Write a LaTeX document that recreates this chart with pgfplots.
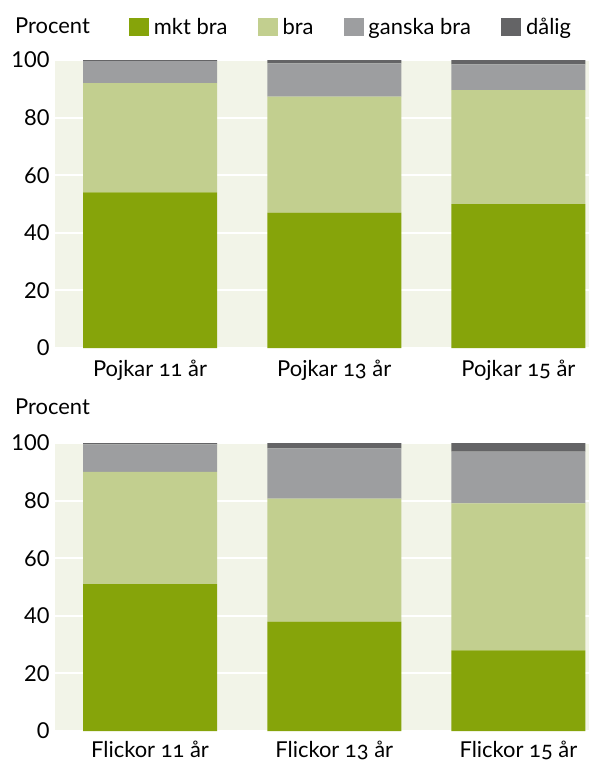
\documentclass[border=0pt]{standalone}
\usepackage{pgfplots}
\pgfplotsset{compat=1.18}
\usepackage{fontspec}
\setmainfont{Lato}
\newfontfamily\osf[Numbers=OldStyle]{Lato}
\definecolor{mkt}{HTML}{86A40A}
\definecolor{bra}{HTML}{C2CF8F}
\definecolor{gan}{HTML}{9D9EA0}
\definecolor{dal}{HTML}{646466}
\definecolor{bg}{HTML}{F2F4E8}
\newcommand{\fs}{\fontsize{22}{26}\selectfont}
\pgfplotsset{
 mystyle/.style={
  scale only axis, width=534bp, height=288bp,
  anchor=south west,
  ybar stacked, bar width=134bp,
  ymin=0, ymax=100, xmin=-0.516, xmax=2.383,
  xtick={0,1,2}, ytick={0,20,...,100},
  axis line style={draw=none},
  major tick length=0pt,
  ymajorgrids, grid style={white, line width=2bp},
  axis background/.style={fill=bg},
  /pgf/number format/assume math mode=true,
  yticklabel style={font=\fs, xshift=-2bp},
  xticklabel style={font=\osf\fs, anchor=base, yshift=-28bp, text depth=0pt, inner sep=0pt},
  clip=false,
 }
}
\begin{document}
\begin{tikzpicture}
\path[use as bounding box] (0,0) rectangle (590bp,-762bp);
\begin{axis}[mystyle, at={(55bp,-348bp)},
  xticklabels={Pojkar 11 år, Pojkar 13 år, Pojkar 15 år},
  legend columns=4,
  legend style={draw=none, fill=none, inner sep=0pt, outer sep=0pt,
    at={(0.1385,1.1146)}, anchor=west, font=\fs,
    /tikz/every odd column/.append style={column sep=3bp},
    /tikz/every even column/.append style={column sep=28bp}},
  legend image code/.code={\fill[#1] (0bp,-9bp) rectangle (20bp,9bp);},
]
\addplot[fill=mkt, draw=none] coordinates {(0,54) (1,47) (2,50)};
\addplot[fill=bra, draw=none] coordinates {(0,38) (1,40.3) (2,39.5)};
\addplot[fill=gan, draw=none] coordinates {(0,7.6) (1,11.5) (2,9)};
\addplot[fill=dal, draw=none] coordinates {(0,0.4) (1,1.2) (2,1.5)};
\legend{mkt bra, bra, ganska bra, dålig}
\end{axis}
\begin{axis}[mystyle, at={(55bp,-731bp)},
  xticklabels={Flickor 11 år, Flickor 13 år, Flickor 15 år},
  xticklabel style={yshift=2bp},
]
\addplot[fill=mkt, draw=none] coordinates {(0,51) (1,38) (2,28)};
\addplot[fill=bra, draw=none] coordinates {(0,39) (1,42.7) (2,51)};
\addplot[fill=gan, draw=none] coordinates {(0,9.5) (1,17.4) (2,18)};
\addplot[fill=dal, draw=none] coordinates {(0,0.5) (1,1.9) (2,3)};
\end{axis}
\node[anchor=base west, font=\fs, inner sep=0pt] at (15bp,-33bp) {Procent};
\node[anchor=base west, font=\fs, inner sep=0pt] at (15bp,-414bp) {Procent};
\end{tikzpicture}
\end{document}
